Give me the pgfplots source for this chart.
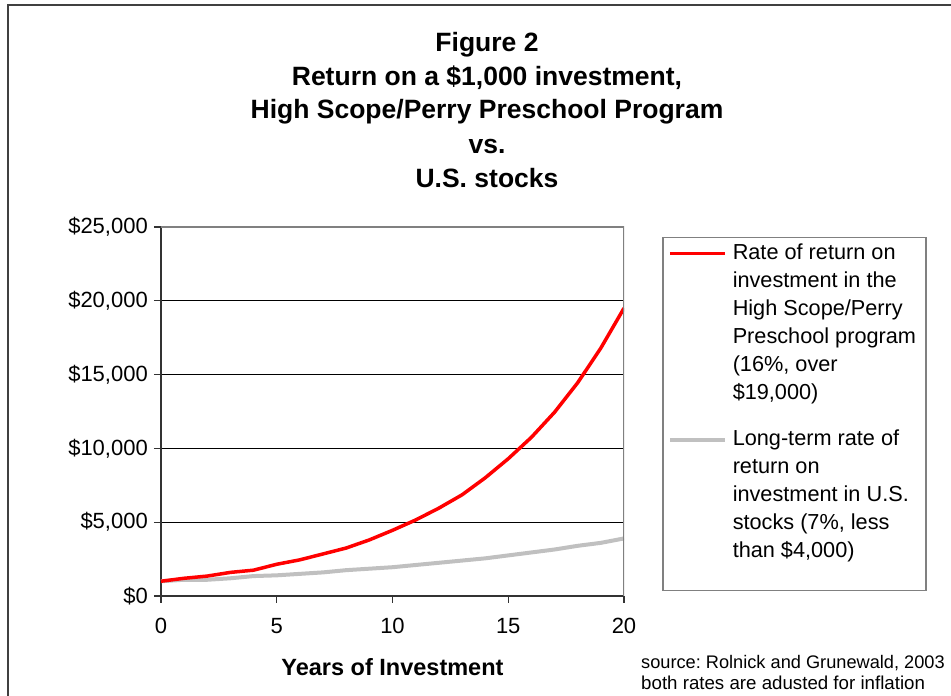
\documentclass[border=0pt]{standalone}
\usepackage{fontspec}
\setmainfont{Liberation Sans}
\usepackage{pgfplots}
\pgfplotsset{compat=1.18}
\definecolor{redline}{RGB}{255,0,0}
\definecolor{grayline}{RGB}{192,192,192}
\definecolor{axisdark}{RGB}{51,51,51}
\definecolor{framegray}{RGB}{128,128,128}
\definecolor{outerframe}{RGB}{64,64,64}
\newcommand{\legline}[2][5]{\makebox[188pt][l]{\rule[-#1pt]{0pt}{\dimexpr17pt+#1pt\relax}#2}}
\begin{document}
\begin{tikzpicture}
\useasboundingbox (0,0) rectangle (951pt,696pt);
\draw[outerframe, line width=2pt] (8pt,-5pt) -- (8pt,691pt) -- (960pt,691pt);
\tikzset{ttl/.style={anchor=base, inner sep=0pt, font=\fontsize{26.5pt}{30pt}\selectfont\bfseries}}
\node[ttl] at (487pt,644.5pt) {Figure 2};
\node[ttl] at (487pt,610.5pt) {Return on a \$1,000 investment,};
\node[ttl] at (487pt,577.5pt) {High Scope/Perry Preschool Program};
\node[ttl] at (487pt,542.5pt) {vs.};
\node[ttl] at (487pt,508.5pt) {U.S. stocks};
\begin{axis}[
  at={(161pt,100pt)}, anchor=south west,
  scale only axis, width=463pt, height=369pt,
  xmin=0, xmax=20, ymin=0, ymax=25000,
  axis x line=bottom, axis y line=left,
  axis line style={-, draw=axisdark, line width=1.5pt},
  xtick={0,5,10,15,20}, xticklabels={0,5,10,15,20},
  ytick={0,5000,10000,15000,20000,25000},
  yticklabels={{\$0},{\$5,000},{\$10,000},{\$15,000},{\$20,000},{\$25,000}},
  scaled y ticks=false,
  tick align=outside, major tick length=7pt,
  tick style={draw=axisdark, line width=1.2pt},
  ymajorgrids, grid style={black, line width=0.8pt},
  ticklabel style={font=\fontsize{22pt}{26pt}\selectfont, inner sep=0pt},
  yticklabel style={xshift=-6pt},
  xticklabel style={yshift=-15pt},
  xlabel={Years of Investment},
  xlabel style={font=\fontsize{23.5pt}{26pt}\selectfont\bfseries, at={(axis description cs:0.5,0)}, anchor=base, yshift=-80pt},
  legend style={at={(axis description cs:1,1)}, anchor=north west, xshift=38pt, yshift=-10pt,
    draw=framegray, line width=1.5pt, inner xsep=5pt, inner ysep=5pt,
    font=\fontsize{21.7pt}{28pt}\selectfont, row sep=6pt, column sep=6pt,
    nodes={inner sep=0pt, text depth=},
    cells={anchor=base west}},
  legend image code/.code={\draw[#1] (0pt,6pt) -- (55pt,6pt);},
]
\addlegendimage{redline, line width=3.5pt}
\addlegendentry{\legline{Rate of return on}}
\addlegendimage{empty legend}
\addlegendentry{\legline{investment in the}}
\addlegendimage{empty legend}
\addlegendentry{\legline{High Scope/Perry}}
\addlegendimage{empty legend}
\addlegendentry{\legline{Preschool program}}
\addlegendimage{empty legend}
\addlegendentry{\legline{(16\%, over}}
\addlegendimage{empty legend}
\addlegendentry{\legline[23]{\$19,000)}}
\addlegendimage{grayline, line width=4pt}
\addlegendentry{\legline{Long-term rate of}}
\addlegendimage{empty legend}
\addlegendentry{\legline{return on}}
\addlegendimage{empty legend}
\addlegendentry{\legline{investment in U.S.}}
\addlegendimage{empty legend}
\addlegendentry{\legline{stocks (7\%, less}}
\addlegendimage{empty legend}
\addlegendentry{\legline[28]{than \$4,000)}}
\addplot[grayline, line width=4pt, forget plot] coordinates {
(0,1000) (1,1100) (2,1100) (3,1200) (4,1350) (5,1400) (6,1500) (7,1600) (8,1750) (9,1850) (10,1950)
(11,2100) (12,2250) (13,2400) (14,2550) (15,2750) (16,2950) (17,3150) (18,3400) (19,3600) (20,3900)};
\addplot[redline, line width=3.5pt, forget plot] coordinates {
(0,1000) (1,1200) (2,1350) (3,1600) (4,1750) (5,2150) (6,2450) (7,2850) (8,3250) (9,3800) (10,4450)
(11,5150) (12,5950) (13,6850) (14,8000) (15,9300) (16,10750) (17,12450) (18,14450) (19,16800) (20,19500)};
\draw[framegray, line width=1.5pt] (rel axis cs:0,1) -- (rel axis cs:1,1) -- (rel axis cs:1,0);
\end{axis}
\node[anchor=base west, inner sep=0pt, font=\fontsize{18.2pt}{22pt}\selectfont\frenchspacing] at (641pt,27pt) {source: Rolnick and Grunewald, 2003};
\node[anchor=base west, inner sep=0pt, font=\fontsize{18.7pt}{22pt}\selectfont\frenchspacing] at (641pt,6pt) {both rates are adusted for inflation};
\end{tikzpicture}
\end{document}
